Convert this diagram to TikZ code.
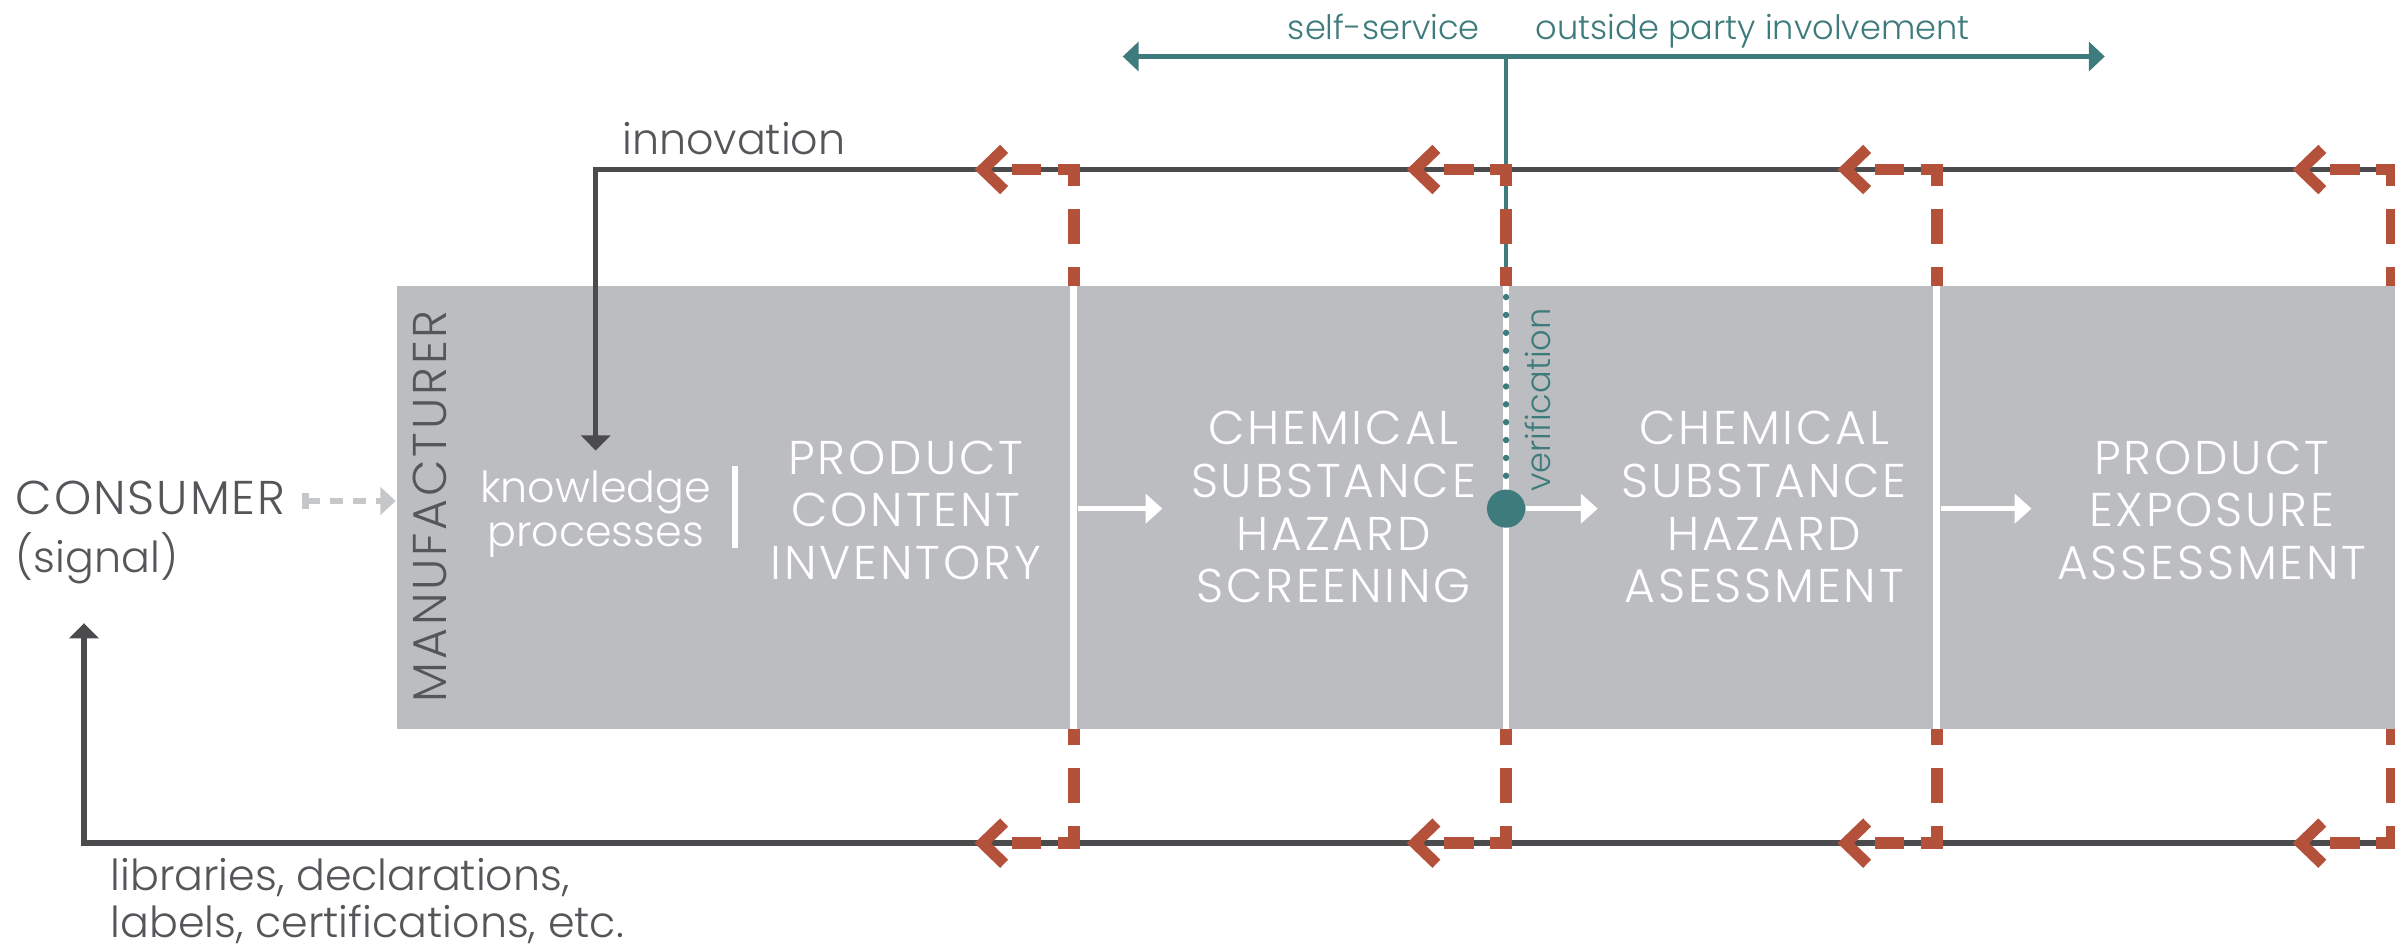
\documentclass[tikz,border=0pt]{standalone}
\usepackage{fontspec}
\setmainfont{Poppins Light}
\usetikzlibrary{arrows.meta}
\definecolor{darkln}{HTML}{4B4B4D}
\definecolor{txtgray}{HTML}{55565A}
\definecolor{tealc}{HTML}{3E7B7C}
\definecolor{redc}{HTML}{B4513A}
\definecolor{boxg}{HTML}{BCBDC0}
\definecolor{lgray}{HTML}{C6C7C9}
\tikzset{
  darkline/.style={draw=darkln, line width=1.75pt},
  tealline/.style={draw=tealc, line width=1.4pt},
  reddash/.style={draw=redc, line width=3.75pt},
  vdash/.style={reddash, dash pattern=on 11.5pt off 7.5pt, dash phase=6pt},
  hdash/.style={reddash, dash pattern=on 7pt off 5.5pt on 9.75pt off 30pt,
     -{Straight Barb[length=7pt,width=13.5pt]}},
  whitearrow/.style={draw=white, line width=1.5pt, -{Triangle[length=5.5pt,width=9.5pt]}},
  divider/.style={draw=white, line width=2.25pt},
  bigt/.style={font=\fontsize{15.5}{17.25}\selectfont\addfontfeatures{LetterSpace=6}, inner sep=0pt, align=center},
  medt/.style={font=\fontsize{14}{15}\selectfont, inner sep=0pt},
  smallt/.style={font=\fontsize{11}{12}\selectfont, inner sep=0pt, text=tealc},
}
\begin{document}
\begin{tikzpicture}[x=0.5pt,y=-0.5pt]
\useasboundingbox (0,0) rectangle (1568,620.6);

% ---------- manufacturer box ----------
\fill[boxg] (260,187) rectangle (1575,477);

% ---------- feedback lines ----------
\coordinate (innR) at (1575,111);
\coordinate (innTip) at (390,295);
\coordinate (botR) at (1575,552);
\coordinate (consTip) at (55,408);
\draw[darkline, -{Triangle[length=5pt,width=9.5pt]}] (innR) -| (innTip);
\draw[darkline, -{Triangle[length=5pt,width=9.5pt]}] (botR) -| (consTip);

% ---------- teal self-service / outside party ----------
\coordinate (tealL) at (735,37);
\coordinate (tealR) at (1378,37);
\coordinate (tealM) at (986,37);
\coordinate (tealB) at (986,187);
\draw[tealline, {Triangle[length=5.25pt,width=9.5pt]}-{Triangle[length=5.25pt,width=9.5pt]}] (tealL) -- (tealR);
\draw[tealline] (tealM) -- (tealB);

% ---------- red dashed feedback ----------
\foreach \x [count=\i] in {703,986,1268,1566} {
  \coordinate (rt\i) at (\x,111);
  \coordinate (rtb\i) at (\x,187);
  \coordinate (rb\i) at (\x,552);
  \coordinate (rbt\i) at (\x,477);
  \coordinate (rtc\i) at (\x+3.75,111);
  \coordinate (rta\i) at (\x-65,111);
  \coordinate (rbc\i) at (\x+3.75,552);
  \coordinate (rba\i) at (\x-65,552);
  \draw[vdash] (rt\i) -- (rtb\i);
  \draw[vdash] (rb\i) -- (rbt\i);
  \draw[hdash] (rtc\i) -- (rta\i);
  \draw[hdash] (rbc\i) -- (rba\i);
}

% ---------- dividers ----------
\foreach \x [count=\i] in {703,986,1268} {
  \coordinate (dt\i) at (\x,187);
  \coordinate (db\i) at (\x,477);
  \draw[divider] (dt\i) -- (db\i);
}
\coordinate (dotA) at (986,194.5);
\coordinate (dotB) at (986,320);
\draw[tealc, line width=2.1pt, line cap=round, dash pattern=on 0pt off 5.85pt] (dotA) -- (dotB);
\node[circle, fill=tealc, minimum size=12.5pt, inner sep=0pt] (vdot) at (986,333) {};

% white bar
\coordinate (barT) at (481,305);
\coordinate (barB) at (481,359);
\draw[draw=white, line width=2pt] (barT) -- (barB);

% ---------- texts ----------
\node[bigt, text=txtgray, anchor=base west, font=\fontsize{15.5}{17.25}\selectfont\addfontfeatures{LetterSpace=4}] (cons) at (10,337) {CONSUMER};
\node[medt, text=txtgray, anchor=base west] (sig) at (10,375) {(signal)};
\node[bigt, text=txtgray, anchor=base, rotate=90] (manu) at (292,331.5) {MANUFACTURER};
\node[medt, text=white, anchor=base] (know) at (390,329) {knowledge};
\node[medt, text=white, anchor=base] (proc) at (390,358) {processes};
\node[medt, text=txtgray, anchor=base west] (innov) at (407,101) {innovation};
\node[medt, text=txtgray, anchor=base west] (lib1) at (72,583) {libraries, declarations,};
\node[medt, text=txtgray, anchor=base west] (lib2) at (72,614) {labels, certifications, etc.};
\node[smallt, anchor=base] (self) at (906,26) {self-service};
\node[smallt, anchor=base west] (outp) at (1005,26) {outside party involvement};
\node[smallt, anchor=base, rotate=90] (verif) at (1015,262) {verification};

\node[bigt, text=white] (pci) at (593,334) {PRODUCT\\CONTENT\\INVENTORY};
\node[bigt, text=white] (cshs) at (873,332) {CHEMICAL\\SUBSTANCE\\HAZARD\\SCREENING};
\node[bigt, text=white] (csha) at (1155,332) {CHEMICAL\\SUBSTANCE\\HAZARD\\ASESSMENT};
\node[bigt, text=white] (pea) at (1448,334) {PRODUCT\\EXPOSURE\\ASSESSMENT};

% ---------- arrows ----------
\coordinate (sigS) at (198,328);
\coordinate (sigE) at (259,328);
\draw[draw=lgray, line width=2.2pt, dash pattern=on 4.2pt off 3.3pt,
  {Bar[width=5.5pt]}-{Triangle[length=5pt,width=9pt]}] (sigS) -- (sigE);
\coordinate (a1S) at (706,333);
\coordinate (a1E) at (761,333);
\coordinate (a2E) at (1046,333);
\coordinate (a3S) at (1271,333);
\coordinate (a3E) at (1330,333);
\draw[whitearrow] (a1S) -- (a1E);
\draw[whitearrow] (vdot.east) -- (a2E);
\draw[whitearrow] (a3S) -- (a3E);
\end{tikzpicture}
\end{document}
